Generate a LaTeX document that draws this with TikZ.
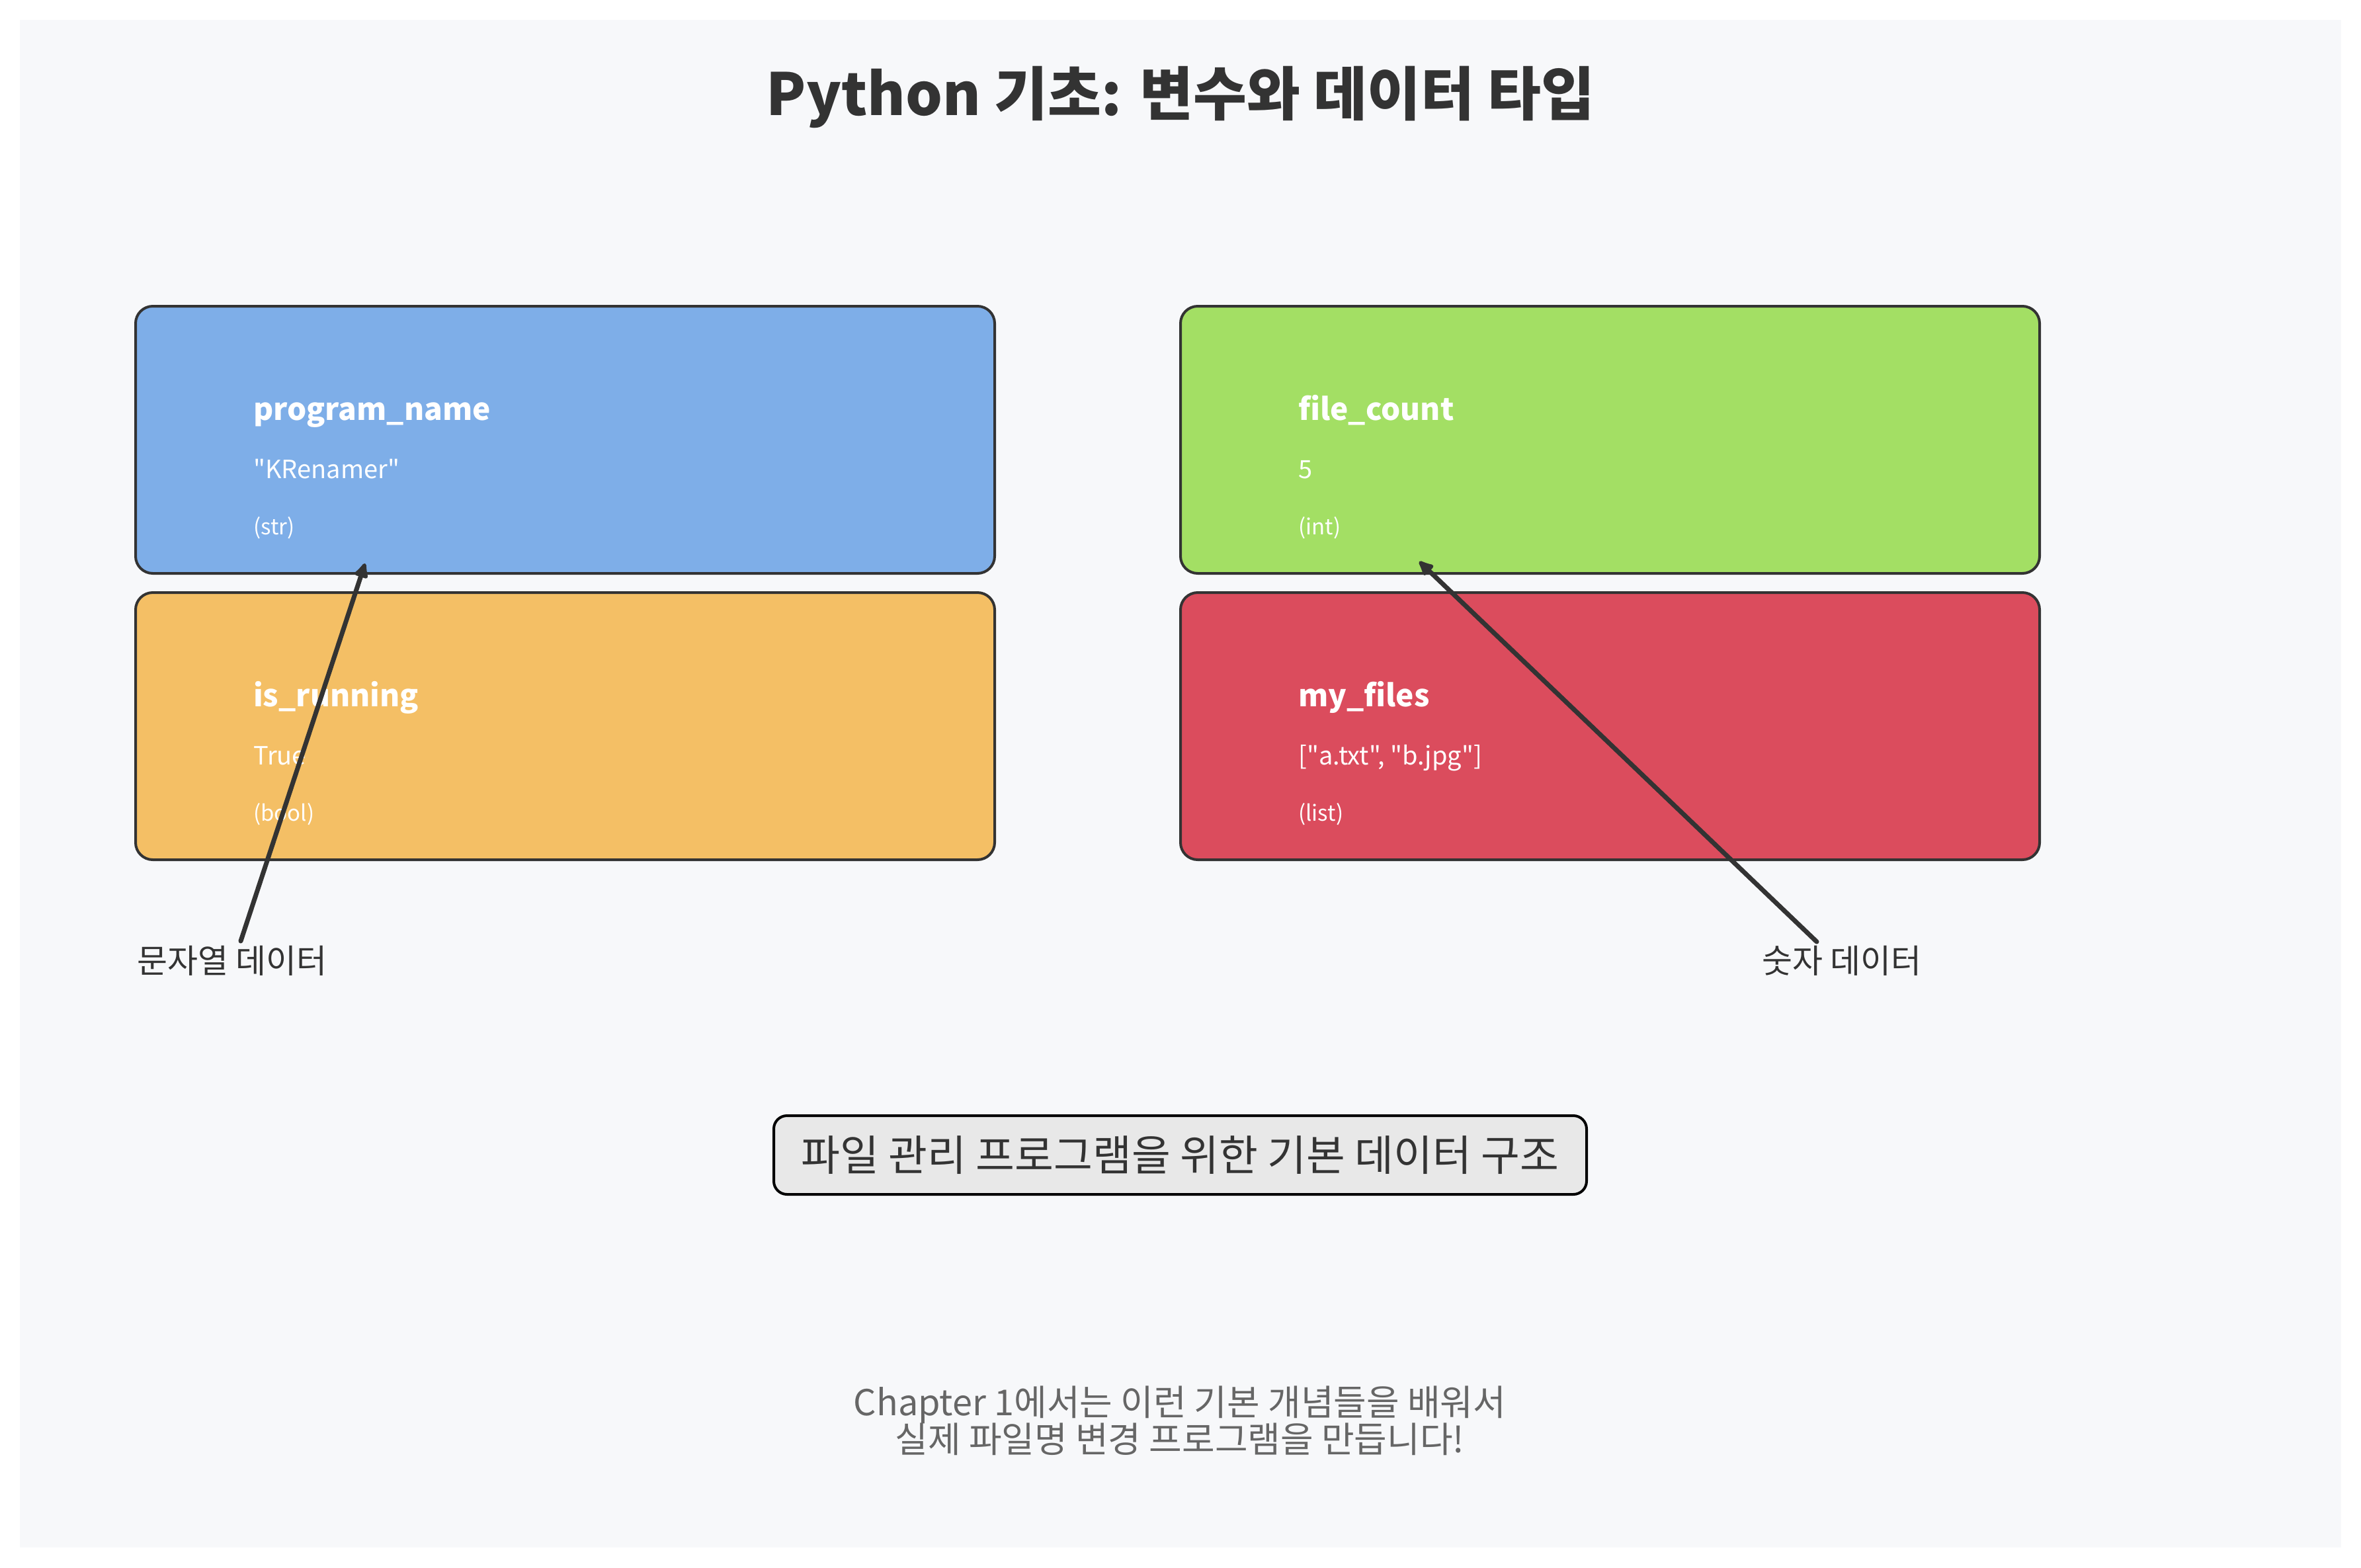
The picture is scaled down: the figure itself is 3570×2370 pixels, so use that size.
\documentclass[tikz,border=0pt]{standalone}
\usepackage{fontspec}
\setmainfont{Noto Sans CJK KR}[Ligatures=TeXOff]
\usetikzlibrary{arrows.meta}
\definecolor{bgpanel}{HTML}{F7F8FA}
\definecolor{ink}{HTML}{333333}
\definecolor{cblue}{HTML}{7EAEE8}
\definecolor{corange}{HTML}{F4BF65}
\definecolor{cgreen}{HTML}{A3DF64}
\definecolor{cred}{HTML}{DB4C5D}
\definecolor{cgray}{HTML}{E8E8E8}
\definecolor{subgray}{HTML}{666666}
\begin{document}
\begin{tikzpicture}[x=1pt,y=-1pt,
  varbox/.style={draw=ink, line width=4pt, rounded corners=26pt, minimum width=1299pt, minimum height=404pt, inner sep=0pt},
  vname/.style={anchor=base west, inner sep=0pt, text=white, font=\fontsize{46}{54}\selectfont\bfseries},
  vval/.style={anchor=base west, inner sep=0pt, text=white, font=\fontsize{38}{46}\selectfont},
  vtype/.style={anchor=base west, inner sep=0pt, text=white, font=\fontsize{33}{40}\selectfont},
  lbl/.style={anchor=base west, inner sep=0pt, text=ink, font=\fontsize{50}{58}\selectfont},
  ptr/.style={draw=ink, line width=7pt, line cap=round, -{Latex[length=28pt,width=26pt,round]}},
  sub/.style={anchor=base, inner sep=0pt, text=subgray, font=\fontsize{54}{60}\selectfont}
]
\useasboundingbox (0,0) rectangle (3570,2370);
\fill[white] (0,0) rectangle (3570,2370);
\fill[bgpanel] (30,30) rectangle (3540,2340);

\node[anchor=base, inner sep=0pt, text=ink, font=\fontsize{88}{104}\selectfont\bfseries] (title) at (1785,174) {Python 기초: 변수와 데이터 타입};

\node[varbox, fill=cblue] (bstr) at (854.5,665) {};
\node[varbox, fill=corange] (bbool) at (854.5,1098) {};
\node[varbox, fill=cgreen] (bint) at (2434.5,665) {};
\node[varbox, fill=cred] (blist) at (2434.5,1098) {};

\node[vname] (n1) at (383,635) {program\_name};
\node[vval] (v1) at (383,723) {"KRenamer"};
\node[vtype] (t1) at (383,808) {(str)};

\node[vname] (n2) at (383,1068) {is\_running};
\node[vval] (v2) at (383,1156) {True};
\node[vtype] (t2) at (383,1241) {(bool)};

\node[vname] (n3) at (1963,635) {file\_count};
\node[vval] (v3) at (1963,723) {5};
\node[vtype] (t3) at (1963,808) {(int)};

\node[vname] (n4) at (1963,1068) {my\_files};
\node[vval] (v4) at (1963,1156) {["a.txt", "b.jpg"]};
\node[vtype] (t4) at (1963,1241) {(list)};

\node[lbl] (lstr) at (207,1471) {문자열 데이터};
\node[lbl] (lnum) at (2664,1471) {숫자 데이터};

\coordinate (s1) at (364,1423);
\coordinate (e1) at (552,852);
\coordinate (s2) at (2747,1424);
\coordinate (e2) at (2146,849);
\draw[ptr] (s1) -- (e1);
\draw[ptr] (s2) -- (e2);

\node[draw=black, line width=4pt, fill=cgray, rounded corners=20pt, minimum width=1229pt, minimum height=119pt, inner sep=0pt, text=ink, font=\fontsize{64}{72}\selectfont] (note) at (1784.5,1746.5) {파일 관리 프로그램을 위한 기본 데이터 구조};

\node[sub] (sub1) at (1784,2140) {Chapter 1에서는 이런 기본 개념들을 배워서};
\node[sub] (sub2) at (1784,2196) {실제 파일명 변경 프로그램을 만듭니다!};
\end{tikzpicture}
\end{document}
